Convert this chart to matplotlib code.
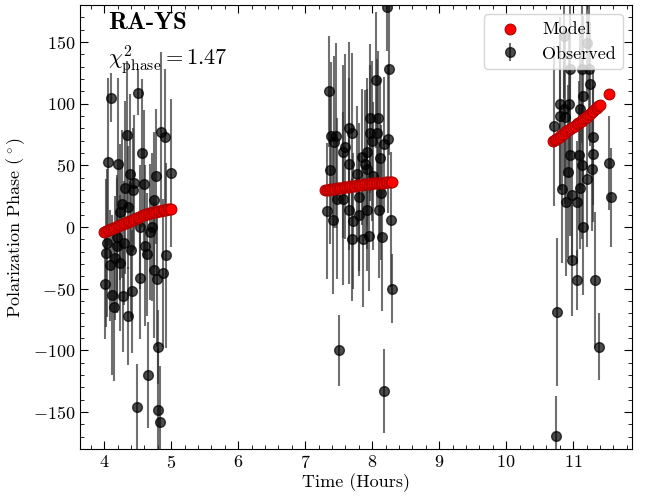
import numpy as np
import matplotlib
matplotlib.use("Agg")
import matplotlib.pyplot as plt
from matplotlib.ticker import MultipleLocator

plt.rcParams["font.family"] = "serif"
plt.rcParams["font.serif"] = ["cmr10"]
plt.rcParams["mathtext.fontset"] = "cm"
plt.rcParams["axes.formatter.use_mathtext"] = True
plt.rcParams["axes.unicode_minus"] = True

# observed polarization phase: time (h), phase (deg), error (deg)
obs_time = [
    4.10, 4.50, 4.34, 4.85, 4.91, 4.56, 4.05, 4.20, 5.00, 4.39, 4.31, 4.45, 4.59,
    4.43, 4.77, 4.74, 4.26, 4.36, 4.24, 4.71, 4.54, 4.69, 4.19, 4.04, 4.19, 4.30,
    4.61, 4.40, 4.64, 4.03, 4.93, 4.09, 4.24, 4.16, 4.74, 4.88, 4.53, 4.79, 4.01,
    4.41, 4.12, 4.28, 4.14, 4.36, 4.81, 4.65, 4.49, 4.80, 4.83,
    8.22, 8.25, 8.05, 7.36, 7.97, 8.09, 7.65, 7.70, 7.38, 7.46, 7.97, 8.07, 7.43,
    8.00, 8.23, 8.18, 7.60, 7.56, 7.93, 7.85, 8.12, 7.90, 7.66, 7.37, 7.77, 7.92,
    8.01, 8.13, 7.47, 7.57, 7.80, 7.33, 7.65, 7.92, 8.10, 7.42, 7.72, 7.81, 8.28,
    7.70, 7.87, 7.96, 8.15, 8.30, 7.51, 8.17,
    10.86, 11.20, 10.96, 11.13, 11.23, 11.25, 11.15, 10.80, 10.94, 10.87, 11.10,
    10.81, 10.88, 10.71, 11.29, 10.96, 11.09, 11.30, 11.13, 11.54, 10.93, 11.28,
    11.20, 11.10, 10.83, 10.99, 10.90, 11.05, 11.56, 11.15, 10.98, 11.05, 11.32,
    10.76, 11.38, 10.74,
]
obs_phase = [
    105, 109, 75, 77, 73, 60, 53, 51, 44, 43, 32, 36, 35,
    30, 41, 22, 19, 16, 12, 0, 0, -4, -8, -13, -15, -13,
    -15, -19, -22, -21, -23, -31, -29, -25, -35, -37, -41, -42, -46,
    -52, -55, -56, -65, -72, -97, -120, -146, -148, -158,
    178, 128, 119, 110, 88, 88, 80, 76, 74, 74, 76, 76, 69,
    70, 71, 67, 65, 61, 61, 57, 56, 51, 51, 46, 43, 47,
    41, 28, 23, 23, 24, 13, 14, 14, 14, 6, 5, 10, 6,
    -10, -10, -7, -8, -50, -100, -133,
    155, 149, 128, 128, 128, 116, 106, 100, 100, 96, 96,
    90, 89, 82, 73, 58, 58, 59, 50, 52, 45, 47,
    39, 32, 31, 26, 20, 20, 24, 0, -27, -43, -43,
    -69, -97, -169,
]
obs_err = [
    20, 18, 60, 65, 55, 60, 68, 70, 60, 65, 70, 55, 60,
    50, 55, 55, 60, 50, 55, 60, 50, 55, 50, 60, 55, 50,
    65, 55, 50, 60, 75, 45, 55, 50, 55, 60, 50, 55, 45,
    50, 65, 45, 60, 40, 30, 43, 35, 50, 45,
    35, 70, 55, 45, 60, 55, 70, 65, 60, 75, 55, 60, 70,
    65, 60, 55, 75, 70, 60, 55, 65, 60, 70, 60, 55, 65,
    60, 55, 65, 70, 60, 55, 60, 50, 55, 60, 55, 50, 55,
    50, 55, 45, 60, 28, 29, 34,
    50, 45, 70, 60, 55, 50, 65, 70, 60, 55, 65,
    60, 70, 65, 55, 65, 60, 55, 60, 38, 70, 50,
    55, 50, 60, 55, 60, 50, 40, 55, 45, 24, 55,
    60, 27, 32,
]

# model phase
model_time = [
    4.000, 4.025, 4.050, 4.075, 4.100, 4.125, 4.150, 4.175, 4.200, 4.225,
    4.250, 4.275, 4.300, 4.325, 4.350, 4.375, 4.400, 4.425, 4.450, 4.475,
    4.500, 4.525, 4.550, 4.575, 4.600, 4.625, 4.650, 4.675, 4.700, 4.725,
    4.750, 4.775, 4.800, 4.825, 4.850, 4.875, 4.900, 4.925, 4.950, 4.975,
    5.000,
    7.300, 7.325, 7.350, 7.375, 7.400, 7.425, 7.450, 7.475, 7.500, 7.525,
    7.550, 7.575, 7.600, 7.625, 7.650, 7.675, 7.700, 7.725, 7.750, 7.775,
    7.800, 7.825, 7.850, 7.875, 7.900, 7.925, 7.950, 7.975, 8.000, 8.025,
    8.050, 8.075, 8.100, 8.125, 8.150, 8.175, 8.200, 8.225, 8.250, 8.275,
    8.300,
    10.700, 10.725, 10.750, 10.775, 10.800, 10.825, 10.850, 10.875, 10.900,
    10.925, 10.950, 10.975, 11.000, 11.025, 11.050, 11.075, 11.100, 11.125,
    11.150, 11.175, 11.200, 11.225, 11.250, 11.275, 11.300, 11.325, 11.350,
    11.375, 11.400, 11.540,
]
model_phase = [
    -4.0, -3.4, -2.8, -2.2, -1.6, -1.0, -0.4, 0.2, 0.8, 1.3,
    1.9, 2.5, 3.0, 3.6, 4.2, 4.8, 5.3, 5.9, 6.5, 7.0,
    7.6, 8.2, 8.8, 9.4, 10.0, 10.4, 10.8, 11.2, 11.5, 11.8,
    12.1, 12.4, 12.7, 13.0, 13.3, 13.6, 13.9, 14.2, 14.5, 14.8,
    15.0,
    30.0, 30.2, 30.4, 30.6, 30.8, 31.0, 31.2, 31.4, 31.6, 31.8,
    32.0, 32.2, 32.4, 32.6, 32.8, 33.0, 33.2, 33.4, 33.6, 33.8,
    34.0, 34.2, 34.4, 34.5, 34.7, 34.8, 35.0, 35.1, 35.3, 35.4,
    35.6, 35.7, 35.8, 35.9, 36.0, 36.1, 36.2, 36.2, 36.3, 36.3,
    36.4,
    70.0, 70.7, 71.5, 72.4, 73.3, 74.4, 75.5, 76.5, 77.6,
    78.5, 79.5, 80.4, 81.3, 82.2, 83.2, 84.1, 85.0, 86.1,
    87.3, 88.4, 89.6, 90.8, 92.0, 93.1, 94.3, 95.4, 96.6,
    97.8, 99.0, 107.5,
]

label = "RA-YS"
chi2_phase = 1.47

fig = plt.figure(figsize=(6.51, 4.99), dpi=100)
ax = fig.add_axes([0.123, 0.100, 0.848, 0.890])

ax.errorbar(obs_time, obs_phase, yerr=obs_err, fmt="o", color="black",
            ecolor="#333333", elinewidth=1.5, markersize=7, alpha=0.7,
            label="Observed", zorder=2)
ax.scatter(model_time, model_phase, s=60, facecolor="red",
           edgecolor="#b00000", linewidth=0.8, label="Model", zorder=3)

ax.set_xlim(3.64, 11.88)
ax.set_ylim(-180, 180)
ax.xaxis.set_major_locator(MultipleLocator(1))
ax.xaxis.set_minor_locator(MultipleLocator(0.2))
ax.yaxis.set_major_locator(MultipleLocator(50))
ax.yaxis.set_minor_locator(MultipleLocator(10))
ax.tick_params(which="both", direction="in", top=True, right=True, labelsize=13)
ax.tick_params(which="major", length=6)
ax.tick_params(which="minor", length=3)

ax.set_xlabel("Time (Hours)", fontsize=13, labelpad=2)
ax.set_ylabel(r"Polarization Phase $(^\circ)$", fontsize=13, labelpad=4)

ax.text(0.05, 0.985, label, transform=ax.transAxes, fontsize=18,
        family="cmb10", va="top", ha="left")
ax.text(0.05, 0.915, r"$\chi^2_{\rm phase} = %.2f$" % chi2_phase,
        transform=ax.transAxes, fontsize=16, va="top", ha="left")

ax.legend(loc="upper right", fontsize=13, framealpha=0.8, borderaxespad=0.5)

fig.savefig("out.png", dpi=100)
